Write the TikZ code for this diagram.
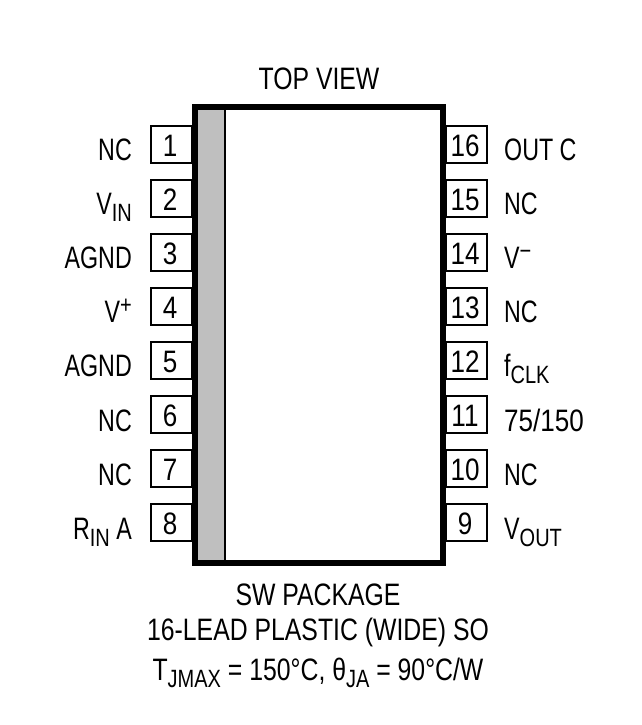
\documentclass[tikz,border=0pt]{standalone}
\usepackage{fontspec}
\setmainfont[FakeStretch=0.75]{Liberation Sans}
\newfontfamily\capf[FakeStretch=0.80]{Liberation Sans}
\newfontfamily\numf[FakeStretch=0.84]{Liberation Sans}
\newcommand{\lowtxt}[1]{\raisebox{-7pt}{\capf\fontsize{25}{25}\selectfont #1}}
\newcommand{\hightxt}[1]{\raisebox{9pt}{\capf\fontsize{25}{25}\selectfont #1}}
\tikzset{
  pinbox/.style={draw=black,fill=white,line width=2pt,minimum width=41pt,minimum height=37pt,inner sep=0pt,outer sep=0pt},
  lbl/.style={inner sep=0pt,font=\fontsize{31}{31}\selectfont},
  lefttxt/.style={lbl,anchor=base east},
  righttxt/.style={lbl,anchor=base west},
  numtxt/.style={inner sep=0pt,anchor=base,font=\numf\fontsize{31}{31}\selectfont},
  captxt/.style={inner sep=0pt,anchor=base,font=\capf\fontsize{31}{31}\selectfont},
}
\begin{document}
\begin{tikzpicture}[x=1pt,y=-1pt]
\useasboundingbox[fill=white] (0,0) rectangle (642,725);
% left pins
\foreach \n/\t [count=\i from 0] in {1/NC,2/V\lowtxt{IN},3/AGND,4/V\hightxt{+},5/AGND,6/NC,7/NC,8/R\lowtxt{IN} A}{
  \node[pinbox] (p\n) at (171,144.5+54*\i) {};
  \node[numtxt] (n\n) at (170,156+54*\i) {\n};
  \node[lefttxt] (l\n) at (132,160+54.2*\i) {\t};
}
% right pins
\foreach \n/\t [count=\i from 0] in {16/OUT C,15/NC,14/V\hightxt{−},13/NC,12/f\lowtxt{CLK},11/{\numf 75/150},10/NC,9/V\lowtxt{OUT}}{
  \node[pinbox] (p\n) at (466,144.5+54*\i) {};
  \node[numtxt] (n\n) at (465,156+54*\i) {\n};
  \node[righttxt] (l\n) at (504,160+54.2*\i) {\t};
}
% package body
\fill[white] (194.5,106.5) rectangle (442.5,563);
\fill[black!25] (194.5,106.5) rectangle (225,563);
\draw[line width=2pt] (225,106.5) -- (225,563);
\draw[line width=6pt,line join=miter] (194.5,106.5) rectangle (442.5,563);
% captions
\node[captxt] (top) at (319,89) {TOP VIEW};
\node[captxt] (c1) at (318,605) {SW PACKAGE};
\node[captxt] (c2) at (318,640) {16-LEAD PLASTIC (WIDE) SO};
\node[captxt] (c3) at (318,680) {T\lowtxt{JMAX} = 150°C, θ\lowtxt{JA} = 90°C/W};
\end{tikzpicture}
\end{document}
